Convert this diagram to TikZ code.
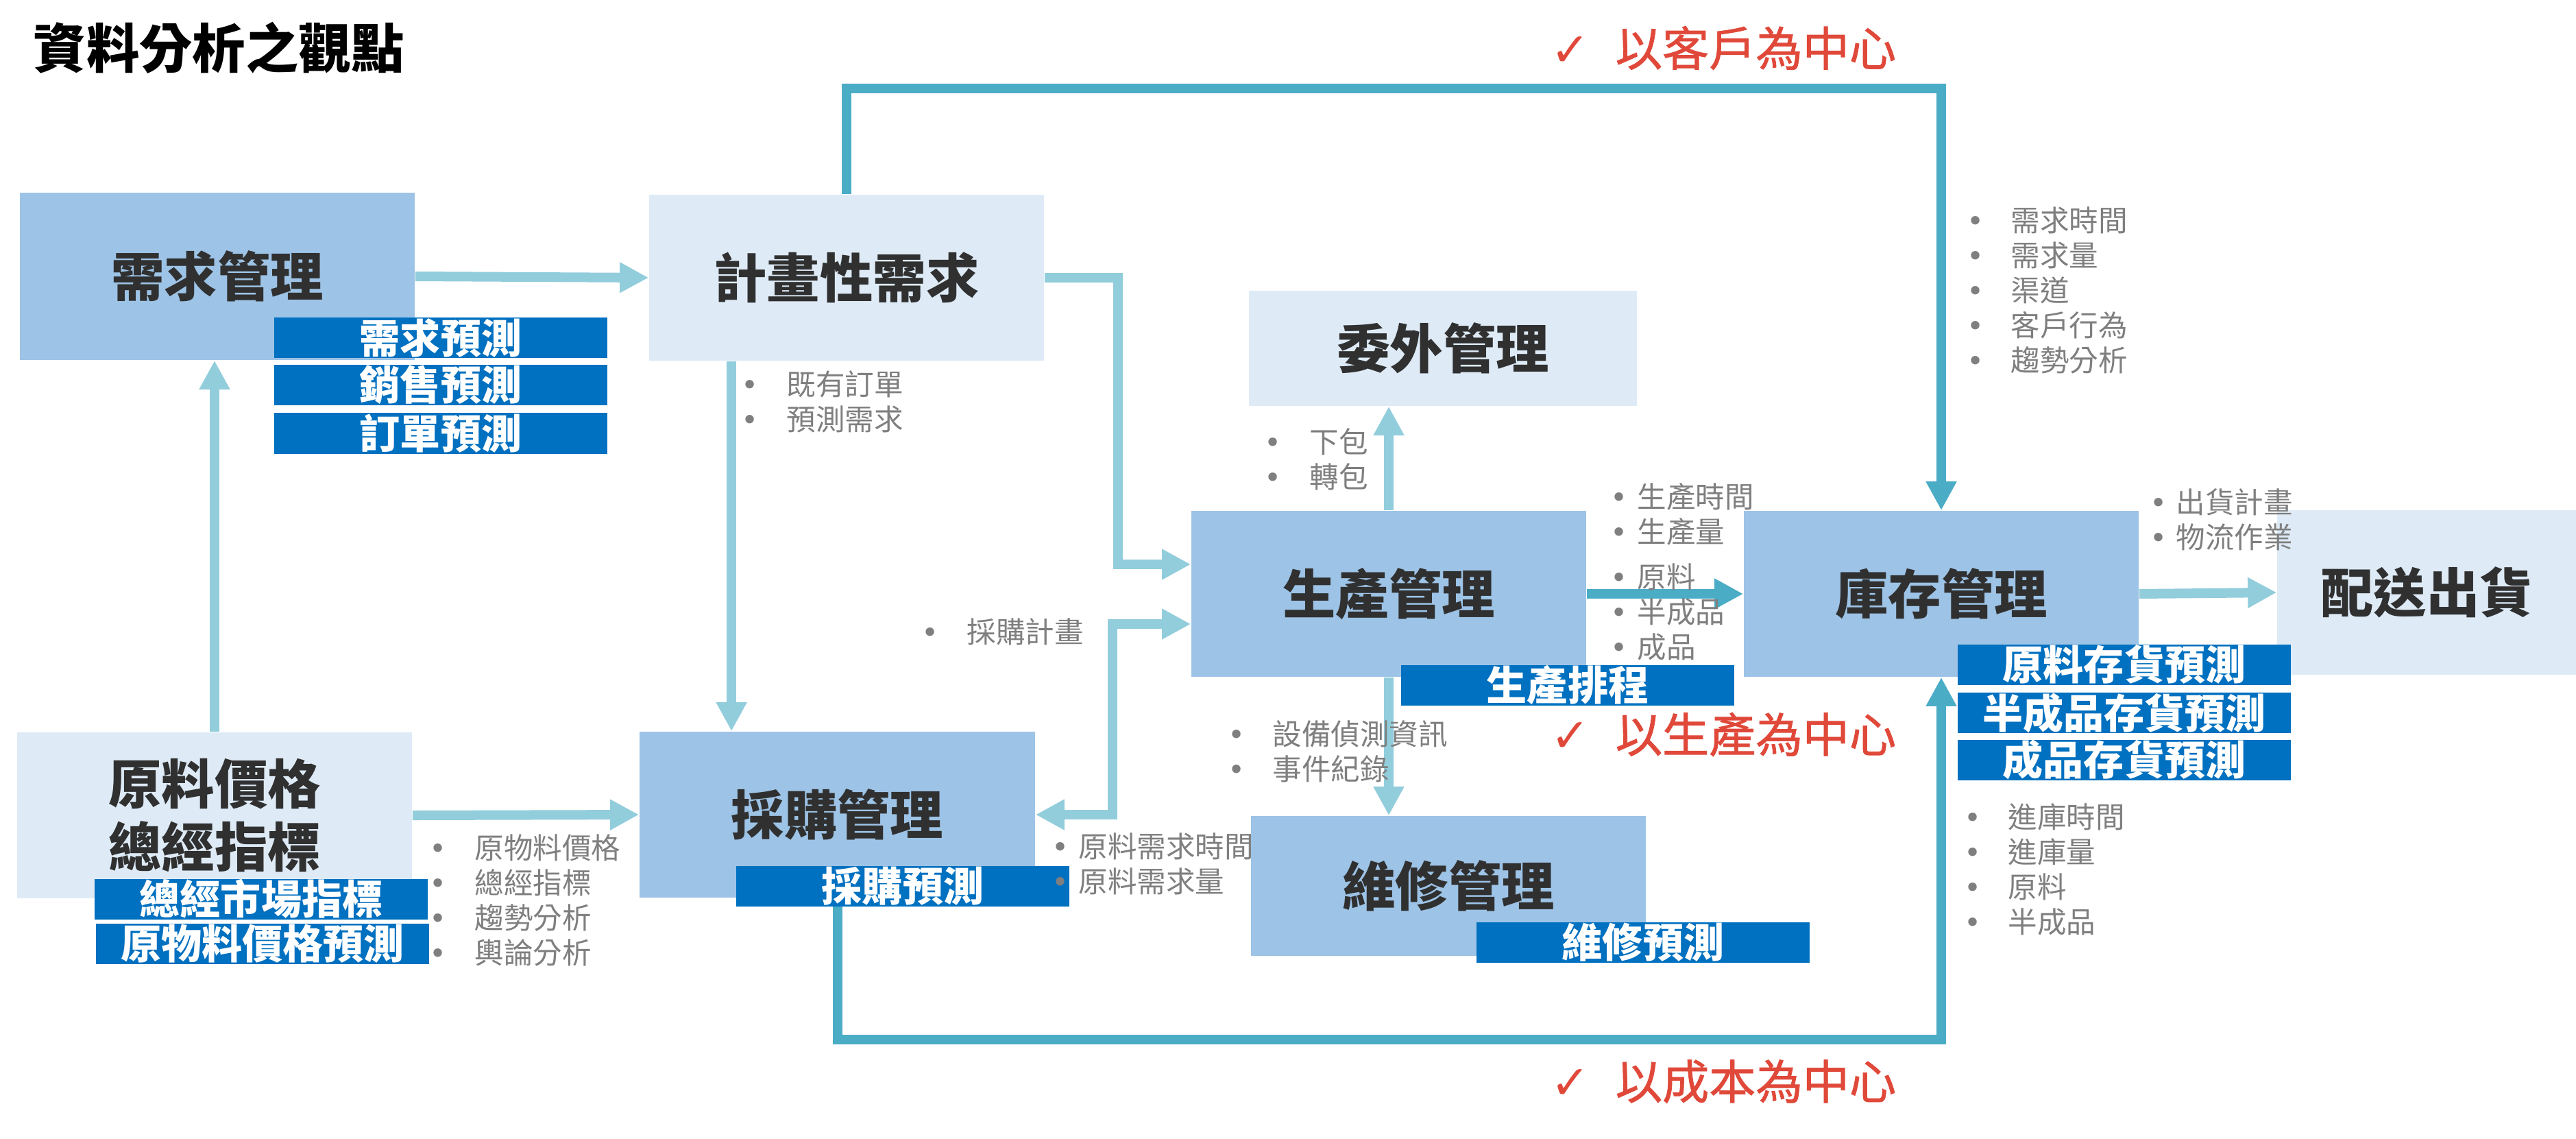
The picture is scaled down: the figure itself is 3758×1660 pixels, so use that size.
\documentclass[tikz,border=0pt]{standalone}
\usepackage{fontspec}
\setmainfont{Noto Sans CJK TC}
\newfontfamily\dejavu{DejaVu Sans}
\newfontfamily\redfont[FakeBold=1.2]{Noto Sans CJK TC}
\usetikzlibrary{arrows.meta,calc}
\definecolor{boxdark}{HTML}{9DC3E6}
\definecolor{boxlight}{HTML}{DEEBF7}
\definecolor{barblue}{HTML}{0070C0}
\definecolor{arrlight}{HTML}{92CDDC}
\definecolor{tealc}{HTML}{4BACC6}
\definecolor{redc}{HTML}{E0493A}
\definecolor{bulgray}{HTML}{7F7F7F}
\definecolor{lbltext}{HTML}{303030}
\newcommand{\bitem}[2]{\makebox[#1][l]{\dejavu •}#2}
\tikzset{
  bx/.style={inner sep=0pt, text=lbltext, font=\fontsize{22}{25.9}\selectfont\bfseries},
  dbox/.style={bx, fill=boxdark},
  lbox/.style={bx, fill=boxlight},
  fbar/.style={inner sep=0pt, fill=barblue, text=white, minimum width=4.85cm, minimum height=0.59cm, font=\fontsize{16.8}{19}\selectfont\bfseries},
  bul/.style={inner sep=0pt, anchor=west, align=left, text=bulgray, font=\fontsize{12.1}{14.5}\selectfont},
  ttl/.style={inner sep=0pt, anchor=west, text=black, font=\fontsize{22}{26}\selectfont\bfseries},
  redlbl/.style={inner sep=0pt, anchor=west, text=redc, font=\fontsize{19.4}{22}\selectfont\redfont},
  la/.style={draw=arrlight, line width=0.14cm, -{Triangle[length=0.42cm,width=0.42cm]}},
  lad/.style={draw=arrlight, line width=0.14cm, {Triangle[length=0.42cm,width=0.42cm]}-{Triangle[length=0.42cm,width=0.42cm]}},
  ta/.style={draw=tealc, line width=0.14cm, -{Triangle[length=0.42cm,width=0.42cm]}}
}
\begin{document}
\begin{tikzpicture}[x=0.01cm,y=-0.01cm]
\useasboundingbox (0,0) rectangle (3758,1660);
\fill[white] (0,0) rectangle (3758,1660);

\node[ttl] (title) at (48,70) {資料分析之觀點};

% main boxes
\node[dbox, minimum width=5.76cm, minimum height=2.44cm] (dem) at (317,403) {需求管理};
\node[lbox, minimum width=5.76cm, minimum height=2.42cm] (plan) at (1235,405) {計畫性需求};
\node[lbox, minimum width=5.76cm, minimum height=2.42cm, align=center] (raw) at (313,1189) {原料價格\\總經指標};
\node[dbox, minimum width=5.77cm, minimum height=2.42cm] (purch) at (1221.5,1188) {採購管理};
\node[dbox, minimum width=5.76cm, minimum height=2.42cm] (prod) at (2026,866) {生產管理};
\node[lbox, minimum width=5.66cm, minimum height=1.68cm] (outs) at (2105,508) {委外管理};
\node[dbox, minimum width=5.76cm, minimum height=2.04cm] (maint) at (2113,1292) {維修管理};
\node[dbox, minimum width=5.76cm, minimum height=2.42cm] (inv) at (2832,866) {庫存管理};
\node[lbox, minimum width=4.36cm, minimum height=2.40cm] (ship) at (3540,864) {配送出貨};

% forecast bars
\node[fbar] (f1) at (643,492.5) {需求預測};
\node[fbar] (f2) at (643,561.5) {銷售預測};
\node[fbar] (f3) at (643,632) {訂單預測};
\node[fbar] (f4) at (381,1311) {總經市場指標};
\node[fbar] (f5) at (383,1376) {原物料價格預測};
\node[fbar] (f6) at (1317,1292) {採購預測};
\node[fbar] (f7) at (2287,999.5) {生產排程};
\node[fbar] (f8) at (2397,1374) {維修預測};
\node[fbar] (f9) at (3099,969) {原料存貨預測};
\node[fbar] (f10) at (3099,1039.5) {半成品存貨預測};
\node[fbar] (f11) at (3099,1108) {成品存貨預測};

% helper coordinates
\coordinate (pd) at ($(plan.south west)+(121,0)$);
\coordinate (pp) at ($(prod.west)+(0,-43)$);
\coordinate (pq) at ($(prod.west)+(0,44)$);
\coordinate (bt) at (purch.south |- f6.south);

% teal loops
\draw[ta] (plan.north) -- ++(0,-154) -| (inv.north);
\draw[ta] (bt) -- ++(0,194) -| (inv.south);
\draw[ta] (prod.east) -- (inv.west);

% light arrows
\draw[la] (dem.east) -- (plan.west);
\draw[la] (raw.north) -- (raw.north |- dem.south);
\draw[la] (raw.east) -- (purch.west);
\draw[la] (pd) -- (pd |- purch.north);
\draw[la] (plan.east) -- ++(107,0) |- (pp);
\draw[lad] (purch.east) -- ++(112,0) |- (pq);
\draw[la] (prod.north) -- (prod.north |- outs.south);
\draw[la] (prod.south) -- (prod.south |- maint.north);
\draw[la] (inv.east) -- (ship.west);

% bullet lists
\node[bul] (l1) at (1081,585.5) {\bitem{0.66cm}{既有訂單}\\\bitem{0.66cm}{預測需求}};
\node[bul] (l2) at (1844,669.5) {\bitem{0.66cm}{下包}\\\bitem{0.66cm}{轉包}};
\node[bul] (l3) at (2869,423.5) {\bitem{0.64cm}{需求時間}\\\bitem{0.64cm}{需求量}\\\bitem{0.64cm}{渠道}\\\bitem{0.64cm}{客戶行為}\\\bitem{0.64cm}{趨勢分析}};
\node[bul] (l4) at (2349,749.5) {\bitem{0.39cm}{生產時間}\\\bitem{0.39cm}{生產量}};
\node[bul] (l5) at (2349,892.5) {\bitem{0.39cm}{原料}\\\bitem{0.39cm}{半成品}\\\bitem{0.39cm}{成品}};
\node[bul] (l6) at (3136,757.5) {\bitem{0.38cm}{出貨計畫}\\\bitem{0.38cm}{物流作業}};
\node[bul] (l7) at (1344,921) {\bitem{0.66cm}{採購計畫}};
\node[bul] (l8) at (1791,1095.5) {\bitem{0.65cm}{設備偵測資訊}\\\bitem{0.65cm}{事件紀錄}};
\node[bul] (l9) at (1534,1260) {\bitem{0.39cm}{原料需求時間}\\\bitem{0.39cm}{原料需求量}};
\node[bul] (l10) at (626,1313) {\bitem{0.66cm}{原物料價格}\\\bitem{0.66cm}{總經指標}\\\bitem{0.66cm}{趨勢分析}\\\bitem{0.66cm}{輿論分析}};
\node[bul] (l11) at (2865,1267.5) {\bitem{0.64cm}{進庫時間}\\\bitem{0.64cm}{進庫量}\\\bitem{0.64cm}{原料}\\\bitem{0.64cm}{半成品}};

% red focus labels
\node[redlbl] (r1) at (2262,70) {\makebox[0.94cm][l]{\dejavu ✓}以客戶為中心};
\node[redlbl] (r2) at (2262,1071) {\makebox[0.94cm][l]{\dejavu ✓}以生產為中心};
\node[redlbl] (r3) at (2262,1577) {\makebox[0.94cm][l]{\dejavu ✓}以成本為中心};
\end{tikzpicture}
\end{document}
